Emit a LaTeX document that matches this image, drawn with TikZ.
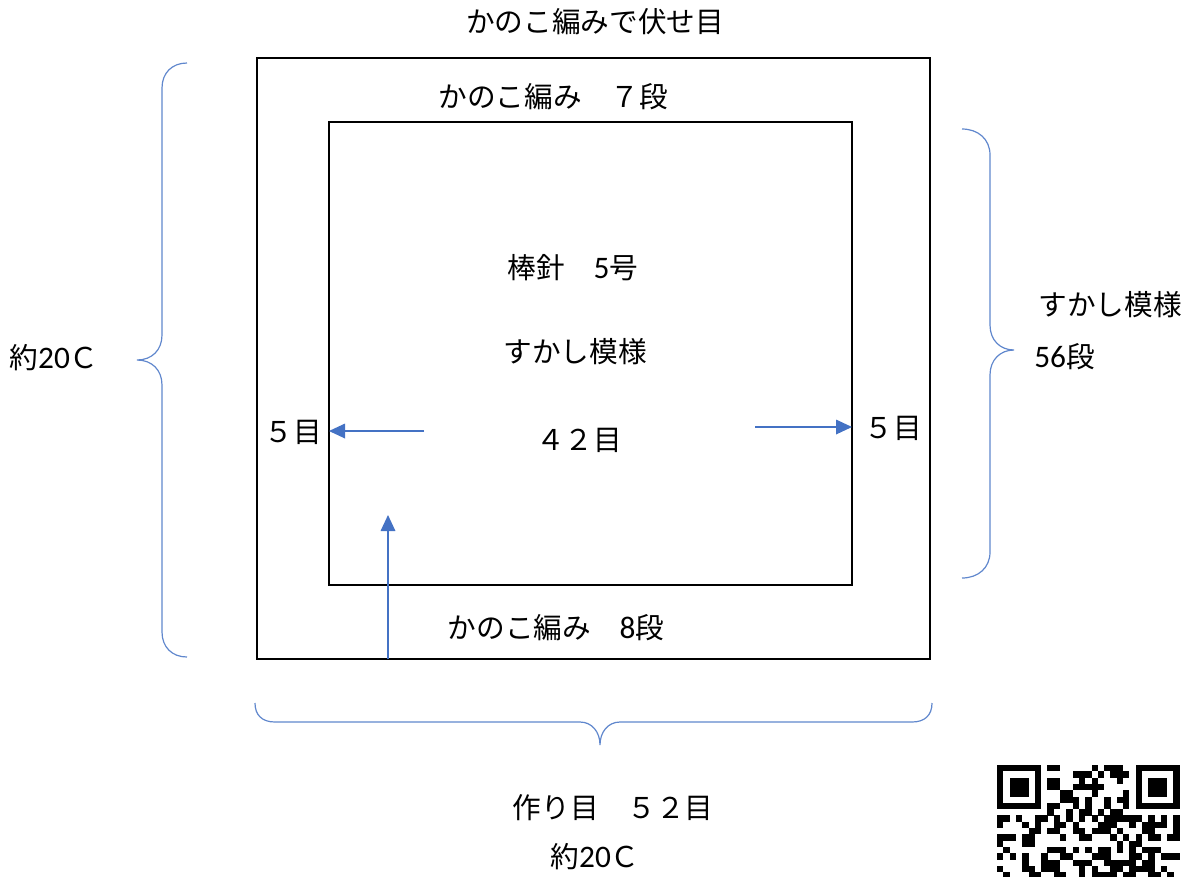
\documentclass[tikz,border=0pt]{standalone}
\usepackage{fontspec}
\setmainfont{Carlito}
\newfontfamily\jp{Noto Sans CJK JP}
\usepackage{tikz}
\usetikzlibrary{arrows.meta,positioning}
\definecolor{officeblue}{HTML}{4472C4}
\tikzset{every picture/.style={
  >={Triangle[length=12pt,width=11pt]}   % Office style filled tips.
  }
}
\newcommand{\jt}[1]{{\jp #1}}
\newcommand{\dg}[1]{{\fontsize{23.5}{26}\selectfont #1}}

\begin{document}
\begin{tikzpicture}[x=0.75pt,y=-0.75pt,
  txt/.style={font=\fontsize{21.5}{26}\selectfont, inner sep=0pt},
  frame/.style={draw=black, line width=1.9pt},
  brace/.style={draw=officeblue!85, line width=0.9pt},
  pointer/.style={->, draw=officeblue, line width=0.9pt}]
  \useasboundingbox (0,0) rectangle (1195,876);

  % the two frames
  \coordinate (outerNW) at (257,58);
  \coordinate (outerSE) at (930,659);
  \coordinate (innerNW) at (329,122);
  \coordinate (innerSE) at (852,585);
  \draw[frame] (outerNW) rectangle (outerSE);
  \draw[frame] (innerNW) rectangle (innerSE);

  % texts
  \node[txt] (title)    at (595,22)  {\jt{かのこ編みで伏せ目}};
  \node[txt] (topband)  at (553,97)  {\jt{かのこ編み　７段}};
  \node[txt] (needle)   at (573,268) {\jt{棒針　}\dg{5}\jt{号}};
  \node[txt] (pattern)  at (575,352) {\jt{すかし模様}};
  \node[txt] (stitches) at (579,440) {\jt{４２目}};
  \node[txt] (leftcount)  at (293,432) {\jt{５目}};
  \node[txt] (rightcount) at (893,428) {\jt{５目}};
  \node[txt] (botband)  at (556,628) {\jt{かのこ編み　}\dg{8}\jt{段}};
  \node[txt] (rightpattern) at (1110,305) {\jt{すかし模様}};
  \node[txt, anchor=west] (rightrows) at (1034,357) {\dg{56}\jt{段}};
  \node[txt] (leftsize) at (54,358)  {\jt{約}\dg{20}\jt{Ｃ}};
  \node[txt] (caston)   at (613,808) {\jt{作り目　５２目}};
  \node[txt] (botsize)  at (595,857) {\jt{約}\dg{20}\jt{Ｃ}};

  % arrows
  \coordinate (larrow) at (424,431);
  \coordinate (rarrow) at (755,427);
  \coordinate (uarrow) at (388,659);
  \coordinate (utip)   at (388,515);
  \draw[pointer] (larrow) -- (larrow -| innerNW);
  \draw[pointer] (rarrow) -- (rarrow -| innerSE);
  \draw[pointer] (uarrow) -- (utip);

  % braces
  \draw[brace] (187,63) .. controls (172,63) and (162,73) .. (162,88)
    -- (162,335) .. controls (162,350) and (152,360) .. (137,360)
    .. controls (152,360) and (162,370) .. (162,385)
    -- (162,632) .. controls (162,647) and (172,657) .. (187,657);
  \draw[brace] (962,129) .. controls (978,129) and (990,139) .. (990,155)
    -- (990,325) .. controls (990,340) and (1000,350) .. (1014,350)
    .. controls (1000,350) and (990,360) .. (990,375)
    -- (990,552) .. controls (990,568) and (978,578) .. (962,578);
  \draw[brace] (255,703) .. controls (255,715) and (262,722) .. (275,722)
    -- (580,722) .. controls (592,722) and (600,732) .. (600,745)
    .. controls (600,732) and (608,722) .. (620,722)
    -- (912,722) .. controls (925,722) and (932,715) .. (932,703);

  % qr code
  \begin{scope}
    \clip (0,0) rectangle (1195,876);
    \pgfmathsetseed{42}
    \foreach \r in {0,...,18} {
      \foreach \c in {0,...,28} {
        \pgfmathrandominteger{\b}{0}{1}
        \ifnum\r<8 \ifnum\c<8 \def\b{0}\fi \ifnum\c>20 \def\b{0}\fi\fi
        \ifnum\b=1
          \fill (997+\c*6.3,765+\r*6.3) rectangle ++(6.4,6.4);
        \fi
      }
    }
    \foreach \qx in {997,1135.6} {
      \fill (\qx,765) rectangle ++(44.1,44.1);
      \fill[white] (\qx+6.3,771.3) rectangle ++(31.5,31.5);
      \fill (\qx+12.6,777.6) rectangle ++(18.9,18.9);
    }
  \end{scope}
\end{tikzpicture}
\end{document}
